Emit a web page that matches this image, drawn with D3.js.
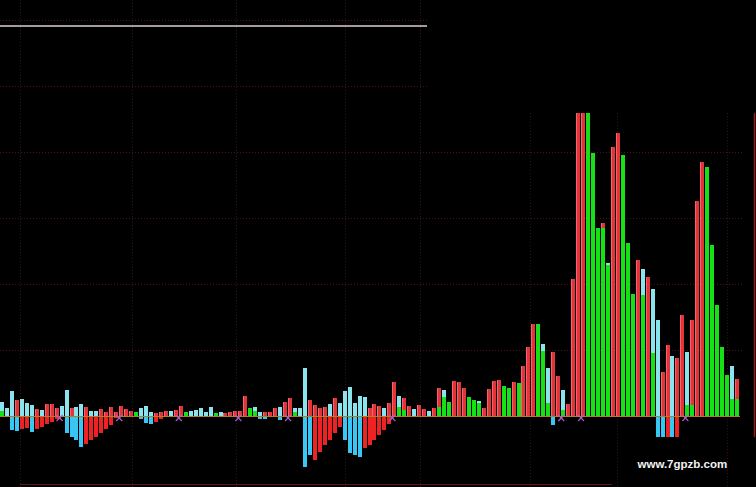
<!DOCTYPE html>
<html><head><meta charset="utf-8">
<script src="https://cdn.jsdelivr.net/npm/d3@7"></script>
<style>html,body{margin:0;padding:0;background:#000;}svg{display:block;}</style>
</head><body>
<svg id="chart" width="756" height="487"></svg>
<script>
// ---------- data ----------
const barCount = 149;
const mainValues = [
 21,12,38,24,26,20,17,11,9,18,
 18,12,15,39,12,14,18,14,8,8,
 11,6,14,6,15,11,8,6,12,15,
 6,5,6,8,8,9,15,6,8,9,
 12,6,14,5,6,5,6,8,8,30,
 12,14,6,6,6,12,14,21,27,12,
 12,73,24,17,12,14,18,27,20,38,
 44,20,30,29,12,18,15,12,20,52,
 30,27,15,11,17,11,8,12,42,39,
 21,53,52,42,29,24,23,12,41,53,
 55,45,42,52,50,76,105,139,139,109,
 73,97,61,39,18,208,459,459,459,398,
 285,292,232,408,429,395,262,185,236,223,
 211,192,145,67,108,91,88,153,97,145,
 326,385,377,259,168,105,62,76,56];
const mainColors = [
 'c','c','c','r','c','c','c','r','c','r',
 'r','r','c','c','r','c','c','r','c','c',
 'r','r','r','r','r','r','r','g','c','c',
 'c','r','r','r','c','r','r','g','c','c',
 'c','c','c','g','c','r','r','r','r','r',
 'g','c','c','r','r','r','c','r','r','c',
 'c','c','r','r','r','r','c','r','c','c',
 'c','c','c','c','r','r','r','c','r','r',
 'c','r','r','c','r','r','c','r','r','c',
 'g','r','r','r','g','g','c','r','r','r',
 'r','g','g','r','g','r','r','r','g','c',
 'c','r','r','c','r','r','r','r','g','g',
 'g','r','c','r','r','g','g','g','r','c',
 'r','c','c','r','r','c','r','r','c','r',
 'r','r','g','g','g','g','g','c','r'];
const innerIdx = [0,51,59,80,81,88,89,96,109,110,113,121,122,129,131,138,139,147,148];
const innerVal = [8,8,6,14,9,14,29,20,98,20,9,285,229,183,95,17,17,26,26];
const negIdx = [2,3,4,5,6,7,8,9,10,11,13,14,15,16,17,18,19,20,21,22,23,28,29,30,31,32,52,53,56,
 61,62,63,64,65,66,67,68,69,70,71,72,73,74,75,76,77,78,111,132,133,134,135,136];
const negVal = [21,23,20,18,24,20,17,12,9,5,26,32,36,47,42,36,32,26,20,14,3,5,11,12,9,5,5,5,6,
 77,59,67,55,44,36,26,17,36,56,59,62,48,44,36,29,21,12,14,32,32,32,32,32];
const negCol = ['c','c','r','r','c','r','r','r','r','r','c','c','c','c','r','r','r','r','r','r','r','c','c','c','r','r','c','c','c',
 'c','c','r','r','r','r','r','r','c','c','c','c','r','r','r','r','r','r','c','c','c','r','c','r'];
const markerPos = [12,24,36,48,58,79,113,117,138];
const gridValuesFull = [100,200,300,400];
const gridValuesLeft = [500,600];
const gridXFull = [4,26.6,47.5,69.5,84.6];
const gridXRight = [106.7,124.2,146.4];
const whiteLevel = 591;
const watermark = "www.7gpzb.com";

// ---------- drawing ----------
const W = 756, H = 487;
const svg = d3.select('#chart');
svg.append('rect').attr('width',W).attr('height',H).attr('fill','#000');

const x = d3.scaleLinear().domain([0, barCount]).range([0, 740]);
const y = d3.scaleLinear().domain([0, 600]).range([416, 20]);
const barW = 4;

const posColor = {r:'#e23636', c:'#8ae4ee', g:'#16e016'};
const negColor = {r:'#ee2222', c:'#38c6f4'};

// grid
const grid = svg.append('g').attr('stroke','#4a1212').attr('stroke-width',1).attr('stroke-dasharray','1,2');
grid.selectAll('.hf').data(gridValuesFull).join('line')
  .attr('x1',0).attr('x2',743).attr('y1',d=>Math.round(y(d))+0.5).attr('y2',d=>Math.round(y(d))+0.5);
grid.selectAll('.hl').data(gridValuesLeft).join('line')
  .attr('x1',0).attr('x2',x(86)).attr('y1',d=>Math.round(y(d))+0.5).attr('y2',d=>Math.round(y(d))+0.5);
const gridV = svg.append('g').attr('stroke','#331414').attr('stroke-width',1).attr('stroke-dasharray','1,2');
gridV.selectAll('.vf').data(gridXFull).join('line')
  .attr('x1',d=>Math.round(x(d))+0.5).attr('x2',d=>Math.round(x(d))+0.5).attr('y1',0).attr('y2',H);
gridV.selectAll('.vr').data(gridXRight).join('line')
  .attr('x1',d=>Math.round(x(d))+0.5).attr('x2',d=>Math.round(x(d))+0.5).attr('y1',y(459)).attr('y2',H);

// white level line
svg.append('line').attr('x1',0).attr('x2',427).attr('y1',y(whiteLevel)).attr('y2',y(whiteLevel))
  .attr('stroke','#d8d0d0').attr('stroke-width',1.4);

// right red frame line and bottom line
svg.append('line').attr('x1',754.5).attr('x2',754.5).attr('y1',y(459)).attr('y2',y(-32))
  .attr('stroke','#9a1818').attr('stroke-width',1.5);
svg.append('line').attr('x1',20).attr('x2',612).attr('y1',484.5).attr('y2',484.5)
  .attr('stroke','#6a1010').attr('stroke-width',1);

const bars = d3.range(barCount).map(i => ({i, v: mainValues[i], c: mainColors[i]}));
const g = svg.append('g').attr('shape-rendering','crispEdges');
g.selectAll('.main').data(bars).join('rect')
  .attr('x',d=>x(d.i)).attr('width',barW)
  .attr('y',d=>y(d.v)).attr('height',d=>y(0)-y(d.v))
  .attr('fill',d=>posColor[d.c]);
// pink edge on red bars
g.selectAll('.edge').data(bars.filter(d=>d.c==='r')).join('rect')
  .attr('x',d=>x(d.i)).attr('width',1)
  .attr('y',d=>y(d.v)).attr('height',d=>y(0)-y(d.v))
  .attr('fill','#ff6f8f').attr('opacity',0.75);
// inner green
const inner = innerIdx.map((i,k)=>({i, v: innerVal[k]}));
g.selectAll('.inner').data(inner).join('rect')
  .attr('x',d=>x(d.i)).attr('width',barW)
  .attr('y',d=>y(d.v)).attr('height',d=>y(0)-y(d.v))
  .attr('fill',posColor.g);
// negative
const negs = negIdx.map((i,k)=>({i, v: negVal[k], c: negCol[k]}));
g.selectAll('.neg').data(negs).join('rect')
  .attr('x',d=>x(d.i)).attr('width',barW)
  .attr('y',y(0)+1).attr('height',d=>y(-d.v)-y(0)-1)
  .attr('fill',d=>negColor[d.c]);

// baseline
svg.append('line').attr('x1',0).attr('x2',x(barCount)).attr('y1',y(0)+0.5).attr('y2',y(0)+0.5)
  .attr('stroke','#b08024').attr('stroke-width',1);

// markers
const mk = svg.append('g').attr('stroke','#b45cc8').attr('stroke-width',1.1);
markerPos.forEach(p=>{
  const cx = x(p), cy = y(0)+2;
  mk.append('line').attr('x1',cx-3).attr('x2',cx+3).attr('y1',cy-3).attr('y2',cy+3);
  mk.append('line').attr('x1',cx-3).attr('x2',cx+3).attr('y1',cy+3).attr('y2',cy-3);
});

// watermark
svg.append('text').attr('x',637.5).attr('y',467.5).text(watermark)
  .attr('font-family','"Liberation Sans", Arial, sans-serif').attr('font-weight','bold')
  .attr('font-size','11.5px').attr('fill','#f2f2f2');
</script>
</body></html>
